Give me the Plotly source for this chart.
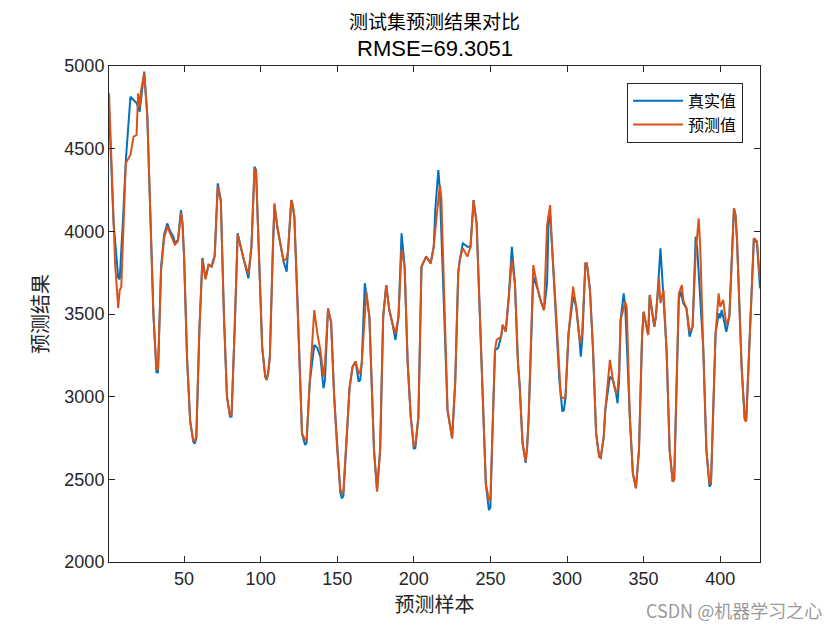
import plotly.graph_objects as go

# ---- data ----
true_x = [1, 4, 7, 8, 10, 12, 15, 19, 21, 22, 24, 26, 28, 30, 32, 33, 35, 37, 39, 41, 43, 44, 46, 48, 49, 50,
          52, 54, 56, 57, 58, 60, 62, 64, 66, 68, 69, 70, 72, 74, 76, 78, 80, 81, 83, 85, 89, 92, 94, 96, 97,
          99, 101, 103, 104, 105, 106, 108, 109, 111, 113, 115, 117, 118, 120, 121, 122, 124, 127, 129, 130,
          132, 135, 137, 139, 141, 142, 144, 145, 146, 148, 150, 152, 153, 154, 156, 158, 160, 162, 164, 165,
          166, 168, 170, 171, 174, 176, 178, 180, 182, 184, 186, 188, 190, 192, 194, 196, 198, 200, 201, 203,
          205, 208, 211, 213, 214, 216, 217, 220, 222, 225, 227, 229, 230, 232, 235, 237, 239, 241, 243, 245,
          247, 249, 250, 251, 253, 255, 257, 258, 260, 262, 264, 266, 268, 269, 271, 273, 274, 275, 277, 278,
          281, 283, 285, 287, 288, 289, 290, 293, 295, 297, 298, 299, 301, 304, 306, 308, 309, 310, 312, 313,
          315, 317, 319, 321, 322, 324, 325, 328, 330, 332, 333, 334, 335, 337, 338, 341, 343, 345, 347, 349,
          350, 353, 354, 357, 358, 359, 361, 362, 363, 365, 367, 369, 370, 371, 373, 374, 376, 378, 380, 382,
          384, 385, 387, 389, 391, 393, 394, 395, 397, 399, 400, 401, 404, 406, 408, 409, 410, 411, 414, 416,
          417, 419, 422, 424, 426]
true_y = [4740, 4050, 3720, 3710, 4050, 4431, 4814, 4776, 4724, 4800, 4966, 4700, 4100, 3500, 3143, 3150, 3786,
          3980, 4048, 4000, 3968, 3929, 3948, 4129, 4050, 3850,
          3222, 2850, 2728, 2715, 2750, 3400, 3839, 3717, 3796, 3786, 3827, 3850, 4290, 4189, 3500, 3000, 2879,
          2880, 3400, 3988, 3827, 3716, 3907, 4391, 4371,
          3800, 3300, 3120, 3101, 3150, 3242, 3900, 4159, 4020, 3928, 3816, 3756, 3887, 4189, 4150, 4088, 3600,
          2778, 2708, 2720,
          3081, 3312, 3294, 3242, 3051, 3100, 3534, 3500, 3450, 3000, 2677, 2420, 2385, 2400, 2718, 3050, 3181,
          3212, 3091, 3100,
          3202, 3686, 3550, 3480, 2677, 2435, 2677, 3484, 3675, 3524, 3444, 3343, 3484, 3988, 3786, 3200, 2879,
          2687, 2690, 2879,
          3786, 3847, 3806, 3907, 4129, 4371, 4250, 3484, 2919, 2748, 3081, 3750, 3827, 3928, 3907, 3907, 4189,
          4048, 3500, 3081,
          2476, 2314, 2330, 2677, 3282, 3294, 3363, 3434, 3393, 3605, 3907, 3686, 3200, 3081, 2718, 2600, 2700,
          2879, 3500, 3726,
          3645, 3574, 3524, 3686, 4088, 4098, 3950, 3484, 3100, 2909, 2920, 2990, 3383, 3605, 3544, 3363, 3242,
          3350, 3806, 3806,
          3645, 3282, 2778, 2637, 2630, 2758, 2919, 3121, 3101, 3020, 2960, 3100, 3464, 3625, 3550, 2879, 2536,
          2446, 2677, 3363,
          3514, 3373, 3615, 3423, 3484, 3600, 3897, 3750, 3600, 3282, 2677, 2486, 2500, 2879, 3585, 3640, 3565,
          3534, 3363, 3423,
          3968, 3900, 3600, 3282, 2677, 2456, 2470, 2778, 3383, 3504, 3474, 3524, 3393, 3484, 3887, 4139, 4100,
          3948, 3181, 2870,
          2859, 3282, 3958, 3928, 3655]

pred_x = [1, 3, 5, 7, 8, 9, 11, 12, 15, 17, 19, 20, 21, 22, 24, 26, 28, 30, 32, 33, 35, 37, 39, 41, 43, 44, 46,
          48, 49, 50, 52, 54, 56, 57, 58, 60, 62, 64, 66, 68, 69, 70, 72, 74, 76, 78, 80, 81, 83, 85, 89, 92,
          94, 96, 97, 99, 101, 103, 104, 105, 106, 108, 109, 111, 113, 115, 117, 118, 120, 121, 122, 124, 127,
          129, 130, 132, 135, 137, 139, 141, 142, 144, 145, 146, 148, 150, 152, 153, 154, 156, 158, 160, 162,
          164, 165, 166, 169, 170, 171, 174, 176, 178, 180, 182, 184, 186, 188, 190, 192, 194, 196, 198, 200,
          201, 203, 205, 208, 211, 213, 215, 217, 218, 220, 222, 225, 227, 229, 230, 232, 235, 237, 239, 241,
          243, 245, 247, 249, 250, 251, 253, 254, 257, 258, 260, 262, 264, 266, 268, 269, 271, 273, 274, 275,
          277, 278, 281, 283, 285, 287, 289, 290, 293, 296, 298, 299, 301, 304, 306, 308, 309, 310, 312, 313,
          315, 317, 319, 321, 322, 324, 325, 328, 330, 332, 333, 334, 335, 338, 339, 341, 343, 345, 347, 349,
          350, 353, 354, 357, 358, 360, 361, 363, 365, 367, 369, 370, 371, 373, 375, 376, 378, 380, 382, 384,
          386, 387, 389, 391, 393, 394, 395, 397, 399, 400, 402, 404, 406, 408, 409, 410, 411, 414, 416, 417,
          419, 422, 424, 426]
pred_y = [4837, 4300, 3800, 3536, 3645, 3660, 4200, 4413, 4462, 4572, 4583, 4835, 4754, 4855, 4956, 4700, 4100,
          3500, 3160, 3170, 3760, 3960, 4030, 3990, 3950, 3920, 3940,
          4110, 4040, 3850, 3222, 2850, 2735, 2730, 2760, 3400, 3830, 3710, 3800, 3790, 3810, 3850, 4270, 4180,
          3500, 3000, 2885, 2890, 3400, 3980, 3830, 3740,
          3910, 4380, 4360, 3800, 3300, 3120, 3105, 3150, 3242, 3900, 4170, 4020, 3930, 3820, 3837, 3887, 4189,
          4160, 4088, 3600, 2778,
          2738, 2745, 3081, 3524, 3383, 3282, 3121, 3200, 3534, 3500, 3450, 3000, 2677, 2440, 2415, 2425, 2718,
          3050, 3181, 3212,
          3141, 3150, 3202, 3635, 3560, 3480, 2677, 2425, 2677, 3484, 3675, 3524, 3444, 3383, 3484, 3887, 3786,
          3200, 2879, 2700,
          2705, 2879, 3786, 3847, 3806, 3907, 4100, 4280, 4200, 3484, 2919, 2748, 3081, 3750, 3827, 3897, 3847,
          3907, 4189, 4048,
          3500, 3081, 2476, 2375, 2380, 2677, 3282, 3343, 3363, 3434, 3393, 3605, 3827, 3686, 3200, 3081, 2718,
          2610, 2700, 2879,
          3500, 3796, 3645, 3574, 3524, 4037, 4159, 3950, 3484, 3000, 2990, 3000, 3383, 3665, 3544, 3363, 3323,
          3400, 3806, 3806,
          3645, 3282, 2778, 2637, 2630, 2758, 2919, 3222, 3101, 3020, 3040, 3150, 3464, 3574, 3540, 2879, 2536,
          2446, 2677, 3363,
          3514, 3373, 3615, 3423, 3484, 3716, 3565, 3645, 3282, 2677, 2486, 2500, 2879, 3625, 3675, 3580, 3534,
          3393, 3423, 3867,
          4078, 3900, 3282, 2677, 2476, 2480, 2778, 3383, 3625, 3544, 3585, 3434, 3484, 3887, 4139, 4100, 3948,
          3181, 2860, 2850,
          3282, 3958, 3940, 3706]

series_names = ["真实值", "预测值"]
x_ticks = [50, 100, 150, 200, 250, 300, 350, 400]
y_ticks = [2000, 2500, 3000, 3500, 4000, 4500, 5000]

fig = go.Figure()
fig.add_trace(go.Scatter(x=true_x, y=true_y, mode="lines", name=series_names[0],
                         line=dict(color="#0072BD", width=2)))
fig.add_trace(go.Scatter(x=pred_x, y=pred_y, mode="lines", name=series_names[1],
                         line=dict(color="#D95319", width=2)))

axis_common = dict(showline=True, linecolor="#262626", linewidth=1, mirror="ticks",
                   ticks="inside", ticklen=6, tickcolor="#262626", showgrid=False, zeroline=False,
                   automargin=False,
                   tickfont=dict(family="Liberation Sans, Arial", size=18, color="#262626"))
fig.update_xaxes(range=[1, 426], tickvals=x_ticks,
                 title=dict(text="预测样本", font=dict(family="Noto Sans CJK SC", size=20, color="#262626"),
                            standoff=6),
                 **axis_common)
fig.update_yaxes(range=[2000, 5000], tickvals=y_ticks,
                 title=dict(text="预测结果", font=dict(family="Noto Sans CJK SC", size=20, color="#262626"),
                            standoff=10),
                 **axis_common)

fig.update_layout(
    width=840, height=630,
    margin=dict(l=101, r=88, t=58, b=76),
    paper_bgcolor="white", plot_bgcolor="white",
    showlegend=True,
    legend=dict(x=0.974, y=0.966, xanchor="right", yanchor="top",
                bordercolor="#262626", borderwidth=1, bgcolor="white",
                font=dict(family="Noto Sans CJK SC", size=16, color="#000000"),
                tracegroupgap=0, itemwidth=50),
    annotations=[
        dict(text="测试集预测结果对比", xref="paper", yref="paper", x=0.5, y=1.091,
             xanchor="center", yanchor="middle", showarrow=False,
             font=dict(family="Noto Sans CJK SC", size=19, color="#000000")),
        dict(text="RMSE=69.3051", xref="paper", yref="paper", x=0.5, y=1.036,
             xanchor="center", yanchor="middle", showarrow=False,
             font=dict(family="Liberation Sans, Arial", size=22, color="#000000")),
        dict(text="CSDN @机器学习之心", xref="paper", yref="paper", x=1.098, y=-0.097,
             xanchor="right", yanchor="middle", showarrow=False,
             font=dict(family="Noto Sans CJK SC", size=18, color="#9a9a9a")),
    ],
)

fig.write_html("out.html")
